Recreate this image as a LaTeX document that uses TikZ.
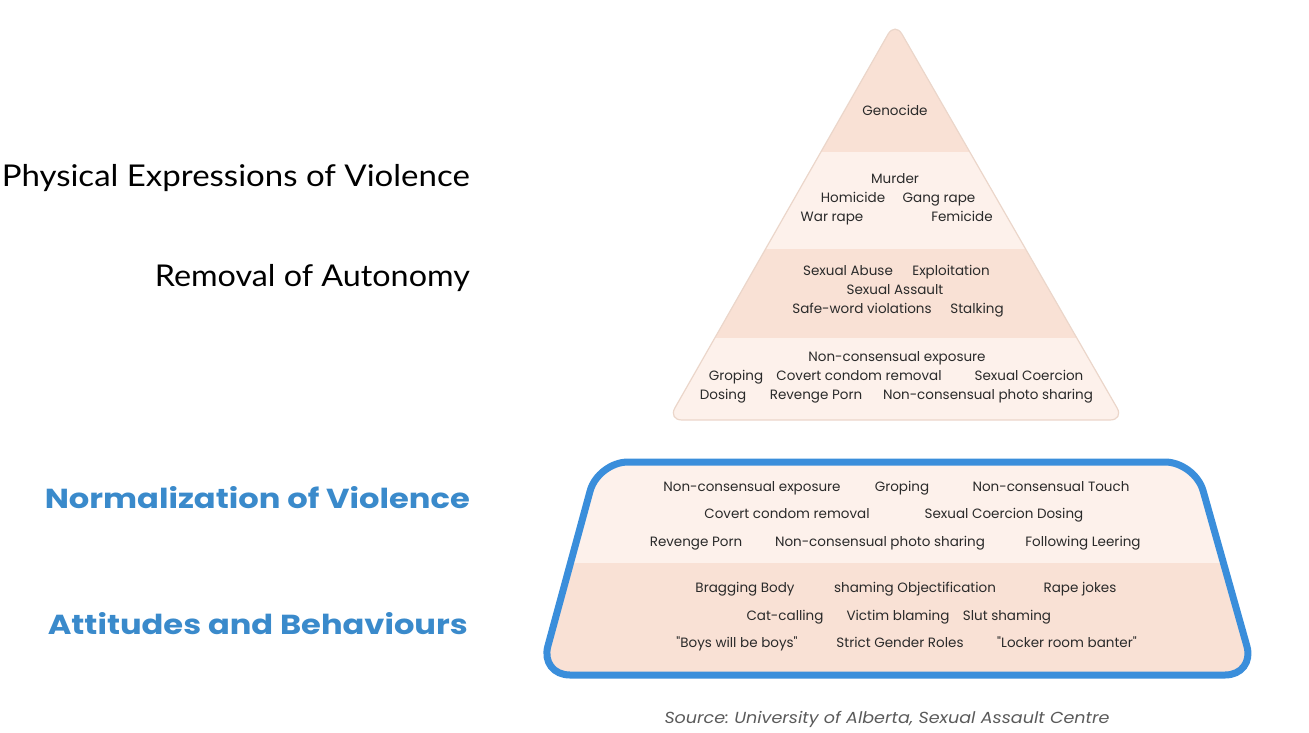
\documentclass[tikz,border=0pt]{standalone}
\usepackage{fontspec}
\usepackage{graphicx}
\setmainfont{Poppins}[Ligatures=TeXOff]
\newfontfamily\regheadfont{Lato}[Ligatures=CommonOff]
\newfontfamily\itemfont{Poppins}[Ligatures=TeXOff]
\newfontfamily\srcfont{Poppins}
\newcommand{\fitto}[2]{\resizebox{#1}{\height}{#2}}
\frenchspacing
\definecolor{bandDark}{HTML}{F9E1D5}
\definecolor{bandLight}{HTML}{FDF1EB}
\definecolor{triEdge}{HTML}{EBD6CA}
\definecolor{frameBlue}{HTML}{3A8EDB}
\definecolor{headBlue}{HTML}{3A8ACB}
\definecolor{itemText}{HTML}{2A2A2A}
\definecolor{srcGray}{HTML}{5A5A5A}
\tikzset{
  item/.style={font=\itemfont\fontsize{13.5}{16}\selectfont, text=itemText, inner sep=0pt, anchor=base, yshift=-5pt},
  head/.style={font=\regheadfont\fontsize{30}{34}\selectfont, text=black, anchor=east, inner sep=0pt},
  bhead/.style={font=\itemfont\bfseries\fontsize{27.5}{34}\selectfont, text=headBlue, anchor=east, inner sep=0pt},
  src/.style={font=\srcfont\itshape\fontsize{16}{19}\selectfont, text=srcGray, inner sep=0pt}
}
\begin{document}
\begin{tikzpicture}[x=1pt,y=-1pt]
\useasboundingbox (0,0) rectangle (1309,732);
% triangle
\begin{scope}
  \clip[rounded corners=14pt] (895,22) -- (1124,420) -- (668,420) -- cycle;
  \fill[bandDark] (600,0) rectangle (1200,152);
  \fill[bandLight] (600,152) rectangle (1200,249);
  \fill[bandDark] (600,249) rectangle (1200,338);
  \fill[bandLight] (600,338) rectangle (1200,425);
\end{scope}
\draw[triEdge, line width=1.2pt, rounded corners=14pt] (895,22) -- (1124,420) -- (668,420) -- cycle;
% trapezoid
\begin{scope}
  \clip[rounded corners=30pt] (598,462) -- (1195,462) -- (1255,675) -- (540,675) -- cycle;
  \fill[bandLight] (500,440) rectangle (1300,563);
  \fill[bandDark] (500,563) rectangle (1300,700);
\end{scope}
\draw[frameBlue, line width=7pt, rounded corners=30pt] (598,462) -- (1195,462) -- (1255,675) -- (540,675) -- cycle;
% left headings
\node[head] (h1) at (470,178) {\fitto{468pt}{Physical Expressions of Violence}};
\node[head] (h2) at (470,278) {\fitto{315pt}{Removal of Autonomy}};
\node[bhead] (h3) at (470,498) {\fitto{425pt}{Normalization of Violence}};
\node[bhead] (h4) at (468,624) {\fitto{420pt}{Attitudes and Behaviours}};
% triangle items
\node[item] (t1) at (895,110) {Genocide};
\node[item] (t2) at (895,178) {Murder};
\node[item] (t3) at (853,197) {Homicide};
\node[item] (t4) at (939,197) {Gang rape};
\node[item] (t5) at (832,216) {War rape};
\node[item] (t6) at (962,216) {Femicide};
\node[item] (t7) at (848,270) {Sexual Abuse};
\node[item] (t8) at (951,270) {Exploitation};
\node[item] (t9) at (895,289) {Sexual Assault};
\node[item] (t10) at (862,308) {Safe-word violations};
\node[item] (t11) at (977,308) {Stalking};
\node[item] (t12) at (897,356) {Non-consensual exposure};
\node[item] (t13) at (736,375) {Groping};
\node[item] (t14) at (859,375) {Covert condom removal};
\node[item] (t15) at (1029,375) {Sexual Coercion};
\node[item] (t16) at (723,394) {Dosing};
\node[item] (t17) at (816,394) {Revenge Porn};
\node[item] (t18) at (988,394) {Non-consensual photo sharing};
% trapezoid items
\node[item] (n1) at (752,486) {Non-consensual exposure};
\node[item] (n2) at (902,486) {Groping};
\node[item] (n3) at (1051,486) {Non-consensual Touch};
\node[item] (n4) at (787,513) {Covert condom removal};
\node[item] (n5) at (1004,513) {Sexual Coercion Dosing};
\node[item] (n6) at (696,541) {Revenge Porn};
\node[item] (n7) at (880,541) {Non-consensual photo sharing};
\node[item] (n8) at (1083,541) {Following Leering};
\node[item] (a1) at (745,587) {Bragging Body};
\node[item] (a2) at (915,587) {shaming Objectification};
\node[item] (a3) at (1080,587) {Rape jokes};
\node[item] (a4) at (785,615) {Cat-calling};
\node[item] (a5) at (898,615) {Victim blaming};
\node[item] (a6) at (1007,615) {Slut shaming};
\node[item] (a7) at (737,642) {"Boys will be boys"};
\node[item] (a8) at (900,642) {Strict Gender Roles};
\node[item] (a9) at (1067,642) {"Locker room banter"};
% source
\node[src] (s) at (887,719) {\fitto{445pt}{Source: University of Alberta, Sexual Assault Centre}};
\end{tikzpicture}
\end{document}
